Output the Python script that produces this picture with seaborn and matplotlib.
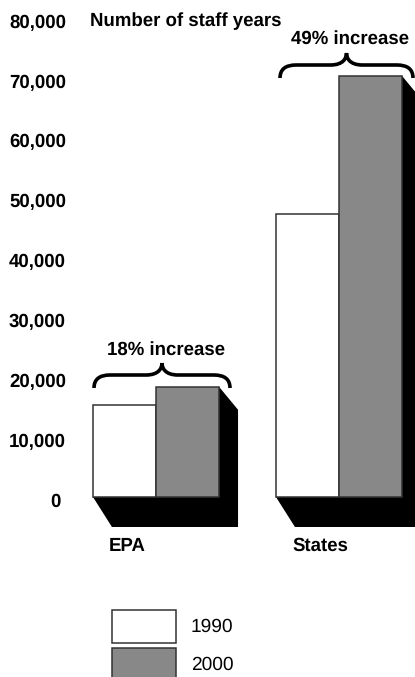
import matplotlib

matplotlib.use("Agg")
import matplotlib.pyplot as plt
import pandas as pd
import seaborn as sns
from matplotlib.patches import PathPatch, Rectangle
from matplotlib.path import Path
from matplotlib.transforms import ScaledTranslation

W, H = 415, 677

groups = ["EPA", "States"]
years = ["1990", "2000"]
epa_values = [15300, 18400]
states_values = [47200, 70300]
increase_labels = ["18% increase", "49% increase"]
y_ticks = [0, 10000, 20000, 30000, 40000, 50000, 60000, 70000, 80000]
y_tick_labels = ["0", "10,000", "20,000", "30,000", "40,000", "50,000", "60,000", "70,000", "80,000"]
year_colors = ["#ffffff", "#888888"]


def px(x, y):
    # reference pixel -> figure fraction
    return x / W, 1 - y / H


def main():
    sns.set_theme(style="white")
    plt.rcParams["font.family"] = ["Liberation Sans", "DejaVu Sans"]
    plt.rcParams["text.hinting"] = "no_hinting"

    df = pd.DataFrame(
        {
            "group": groups * 2,
            "year": [years[0]] * 2 + [years[1]] * 2,
            "staff": [epa_values[0], states_values[0], epa_values[1], states_values[1]],
        }
    )

    fig = plt.figure(figsize=(W / 100, H / 100), dpi=100)
    ax = fig.add_axes([0, 0, 1, 1])
    sns.barplot(
        data=df,
        x="group",
        y="staff",
        hue="year",
        order=groups,
        hue_order=years,
        palette=year_colors,
        width=0.689,
        gap=0,
        edgecolor="#333333",
        linewidth=1.1,
        legend=False,
        zorder=3,
        ax=ax,
    )

    # one group step is 183 px, 10,000 staff years are 59.9 px
    x_per_px = 1 / 183
    y_per_px = 10000 / 59.9
    ax.set_xlim(-156 * x_per_px, (W - 156) * x_per_px)
    ax.set_ylim((497 - H) * y_per_px, 497 * y_per_px)

    # black 3D side and floor, hung off the drawn bars
    bars = sorted(ax.patches, key=lambda p: p.get_x())
    for low, high in (bars[:2], bars[2:]):
        left = low.get_x()
        right = high.get_x() + high.get_width()
        top = high.get_height()
        dx = 19 * x_per_px
        ax.fill(
            [left, left + dx, right + dx, right + dx, right],
            [0, -30 * y_per_px, -30 * y_per_px, top - 23 * y_per_px, top],
            color="black",
            lw=0,
            zorder=2,
        )

    ax.set_yticks(y_ticks, y_tick_labels)
    ax.set_xticks([])
    ax.set_xlabel("")
    ax.set_ylabel("")
    ax.tick_params(axis="y", length=0, pad=-47.5, labelsize=13.4)
    shift = ScaledTranslation(0, -3 / 100, fig.dpi_scale_trans)
    zero_shift = ScaledTranslation(-5 / 100, -3 / 100, fig.dpi_scale_trans)
    for lab in ax.get_yticklabels():
        lab.set_fontweight("bold")
        lab.set_color("black")
        lab.set_transform(lab.get_transform() + (zero_shift if lab.get_text() == "0" else shift))
    sns.despine(ax=ax, left=True, bottom=True)

    bold = dict(fontsize=13.4, fontweight="bold", color="black", transform=fig.transFigure)
    fig.text(*px(90, 21), "Number of staff years", va="center", **bold)
    fig.text(*px(109, 546), groups[0], va="center", **bold)
    fig.text(*px(292, 546), groups[1], va="center", **bold)
    fig.text(*px(166, 350), increase_labels[0], va="center", ha="center", **bold)
    fig.text(*px(350, 39), increase_labels[1], va="center", ha="center", **bold)

    # braces over the bar pairs
    for x0, x1, y_end, y_mid, y_tip in [(94, 230, 388, 375, 363), (280, 413, 78, 65, 53)]:
        xm = (x0 + x1) / 2
        verts = [
            (x0, y_end), (x0, y_mid), (x0 + 16, y_mid),
            (xm - 16, y_mid),
            (xm - 3, y_mid), (xm, y_tip + 5), (xm, y_tip),
            (xm, y_tip + 5), (xm + 3, y_mid), (xm + 16, y_mid),
            (x1 - 16, y_mid),
            (x1, y_mid), (x1, y_end),
        ]
        codes = [Path.MOVETO, Path.CURVE3, Path.CURVE3, Path.LINETO,
                 Path.CURVE4, Path.CURVE4, Path.CURVE4,
                 Path.CURVE4, Path.CURVE4, Path.CURVE4, Path.LINETO,
                 Path.CURVE3, Path.CURVE3]
        path = Path([px(*v) for v in verts], codes)
        fig.add_artist(PathPatch(path, fc="none", ec="black", lw=2.6, transform=fig.transFigure))

    # legend swatches, the lower one runs off the page
    for year, color, y_top, y_text in zip(years, year_colors, [609.5, 647.5], [627, 665]):
        x, y = px(112, y_top + 33)
        fig.add_artist(
            Rectangle((x, y), 64 / W, 33 / H, fc=color, ec="#333333", lw=1.1, transform=fig.transFigure)
        )
        fig.text(*px(191, y_text), year, va="center", fontsize=13.8, color="black")

    plt.savefig("out.png", dpi=100)


main()
